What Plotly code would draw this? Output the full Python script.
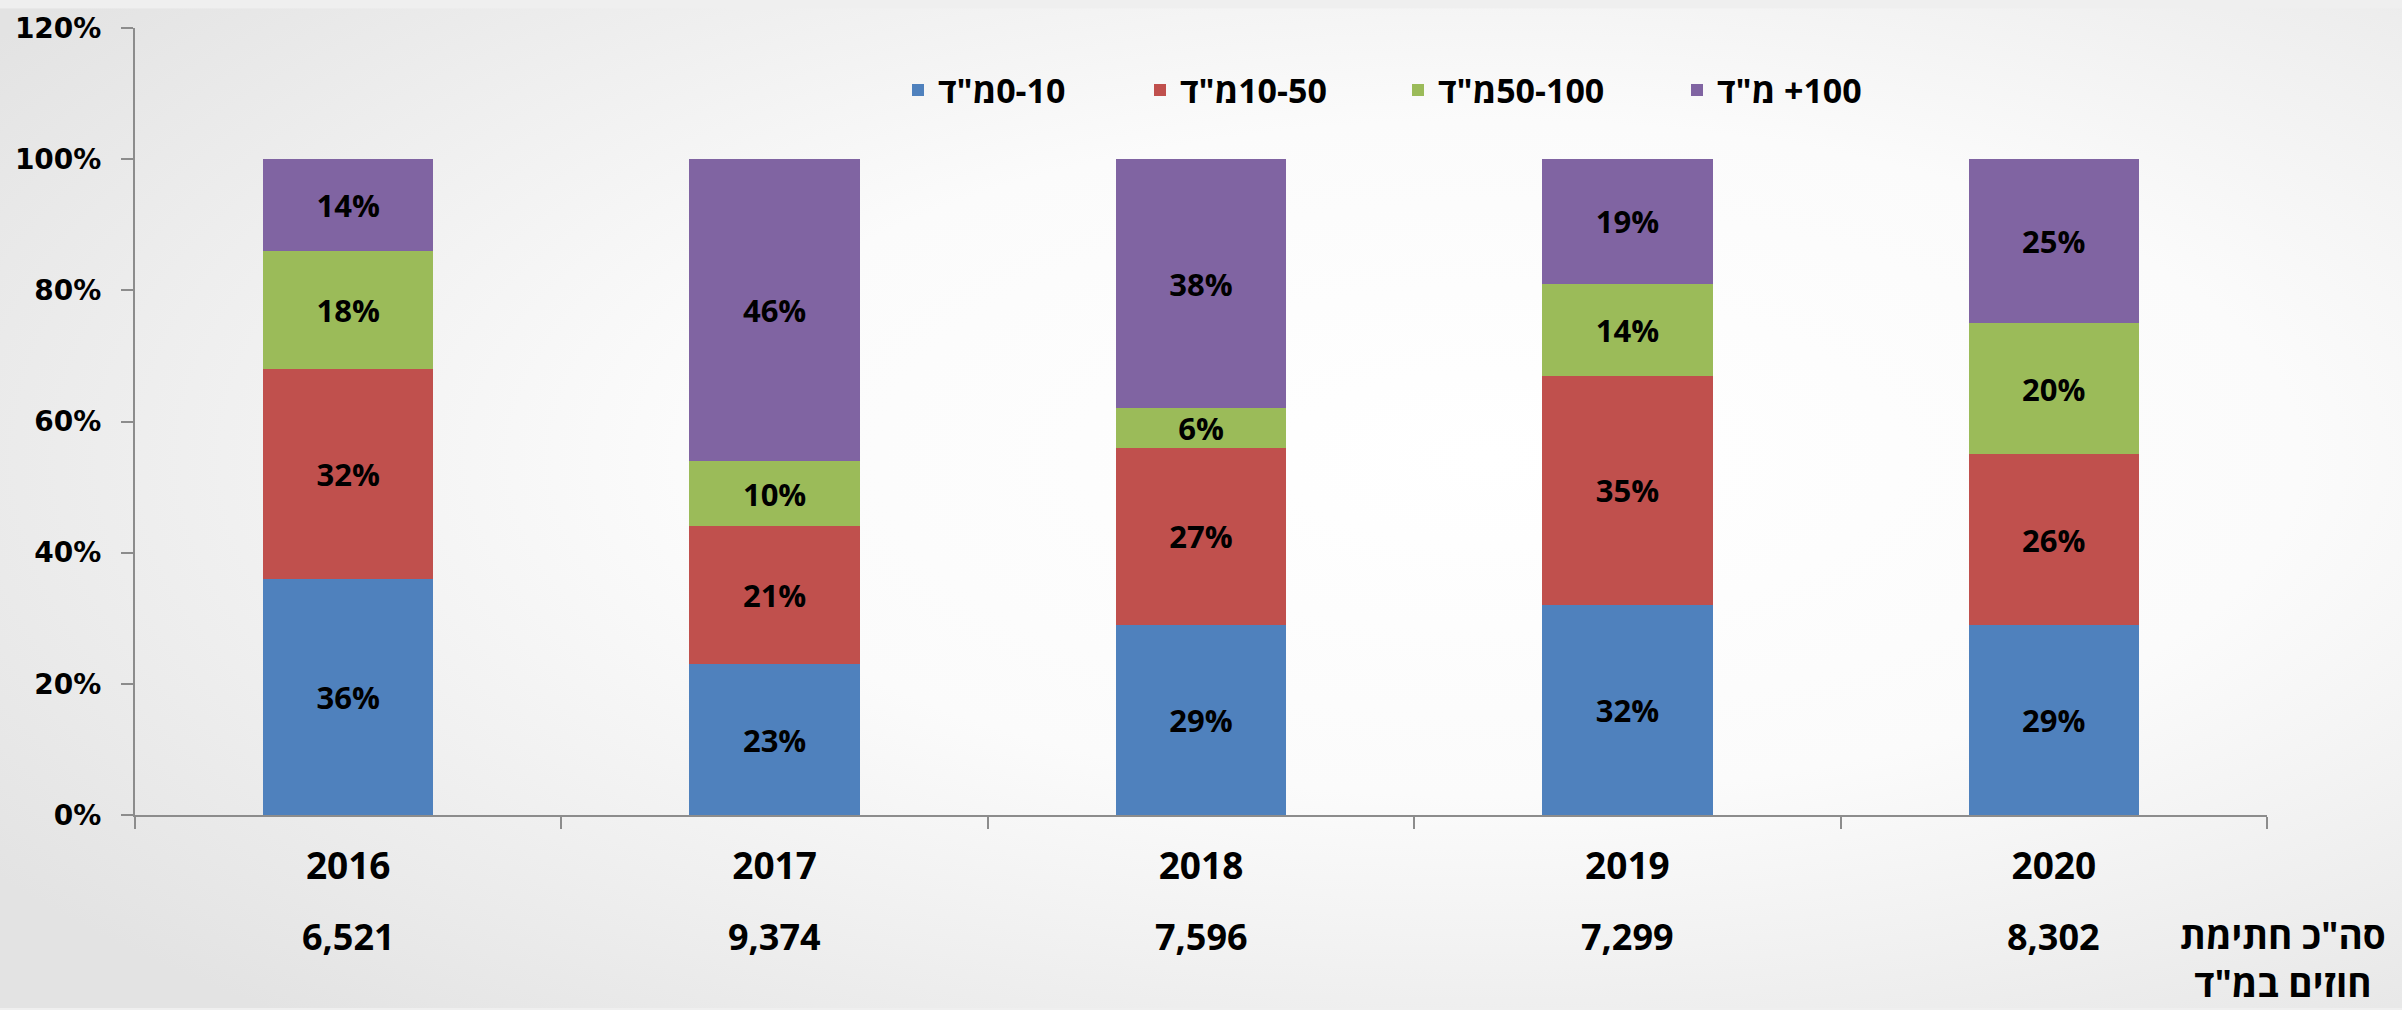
import base64
import plotly.graph_objects as go

years = ["2016", "2017", "2018", "2019", "2020"]
totals = ["6,521", "9,374", "7,596", "7,299", "8,302"]
s_0_10 = [36, 23, 29, 32, 29]
s_10_50 = [32, 21, 27, 35, 26]
s_50_100 = [18, 10, 6, 14, 20]
s_100p = [14, 46, 38, 19, 25]

RLE, PDF = "\u202B", "\u202C"
names = [
    RLE + "0-10מ\"ד" + PDF,
    RLE + "10-50מ\"ד" + PDF,
    RLE + "50-100מ\"ד" + PDF,
    RLE + "100+ מ\"ד" + PDF,
]
colors = ["#4F81BD", "#C0504D", "#9BBB59", "#8064A2"]
series = [s_0_10, s_10_50, s_50_100, s_100p]
totals_title = "סה\"כ חתימת<br>חוזים במ\"ד"

W, H = 2402, 1010
L, R, T, B = 135, 135, 20, 195
PW, PH = W - L - R, H - T - B

FONT = "Open Sans, DejaVu Sans, sans-serif"

# legend item left edges (px) – one legend per series
legend_left_px = [898, 1140, 1398, 1677]
legend_ids = ["legend", "legend2", "legend3", "legend4"]

fig = go.Figure()
for name, vals, col, lid in zip(names, series, colors, legend_ids):
    fig.add_trace(go.Bar(
        x=years, y=vals, name=name, legend=lid,
        marker=dict(color=col, line=dict(width=0)),
        texttemplate="%{y}", textposition="inside",
        insidetextanchor="middle", constraintext="none",
        textfont=dict(family=FONT, size=31, color="black", weight="bold"),
        hoverinfo="skip",
    ))

for i, tot in enumerate(totals):
    fig.add_annotation(x=i, xref="x", y=-(938 - (H - B)) / PH, yref="paper",
                       text=tot, showarrow=False, yanchor="middle",
                       font=dict(family=FONT, size=36, color="black", weight="bold"))

fig.add_annotation(x=(2283 - L) / PW, xref="paper", y=-(960 - (H - B)) / PH, yref="paper",
                   text=totals_title, showarrow=False, xanchor="center", yanchor="middle",
                   align="center",
                   font=dict(family=FONT, size=37, color="black", weight="bold"))

svg = (
    '<svg xmlns="http://www.w3.org/2000/svg" width="2402" height="1010" preserveAspectRatio="none">'
    '<defs><radialGradient id="g" cx="0.62" cy="0.45" r="0.75" fx="0.62" fy="0.45">'
    '<stop offset="0" stop-color="#ffffff"/><stop offset="0.45" stop-color="#fbfbfb"/>'
    '<stop offset="1" stop-color="#e3e3e3"/></radialGradient></defs>'
    '<rect width="2402" height="1010" fill="url(#g)"/></svg>'
)
src = "data:image/svg+xml;base64," + base64.b64encode(svg.encode()).decode()
fig.add_layout_image(dict(source=src, xref="paper", yref="paper",
                          x=-L / PW, y=1 + T / PH, sizex=W / PW, sizey=H / PH,
                          xanchor="left", yanchor="top", sizing="stretch",
                          layer="below"))

legend_common = dict(orientation="h", xanchor="left", y=(H - B - 83) / PH, yanchor="middle",
                     font=dict(family=FONT, size=34, color="black", weight="bold"),
                     bgcolor="rgba(0,0,0,0)", borderwidth=0, itemwidth=30)
legends = {lid: dict(legend_common, x=(lx - L) / PW) for lid, lx in zip(legend_ids, legend_left_px)}

fig.update_layout(
    width=W, height=H,
    margin=dict(l=L, r=R, t=T, b=B),
    barmode="stack", bargap=0.6,
    paper_bgcolor="#efefef", plot_bgcolor="rgba(0,0,0,0)",
    showlegend=True,
    xaxis=dict(type="category", range=[-0.5, len(years) - 0.5], showline=True,
               linecolor="#8c8c8c", linewidth=2,
               ticks="outside", tickson="boundaries", ticklen=12, tickcolor="#8c8c8c",
               tickwidth=2, showgrid=False, ticklabelstandoff=18,
               tickfont=dict(family=FONT, size=37, color="black", weight="bold")),
    yaxis=dict(range=[0, 120], dtick=20, ticksuffix="%", showline=True,
               linecolor="#8c8c8c", linewidth=2, ticks="outside", ticklen=12,
               tickcolor="#8c8c8c", tickwidth=2, showgrid=False, zeroline=False,
               ticklabelstandoff=14,
               tickfont=dict(family="DejaVu Sans", size=28, color="black", weight="bold")),
    **legends,
)

fig.write_html("out.html", config={"displayModeBar": False},
               post_script="document.body.style.margin='0';")
